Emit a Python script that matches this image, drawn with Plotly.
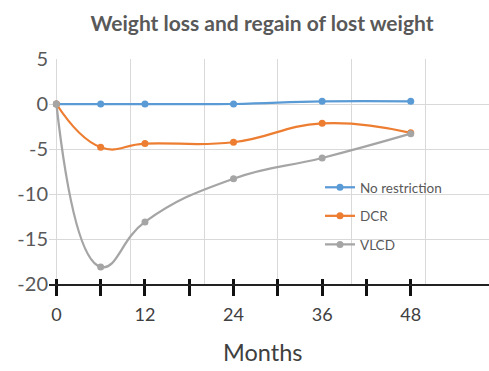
import plotly.graph_objects as go

months = [0, 6, 12, 24, 36, 48]
no_restriction = [0, 0, 0, 0, 0.3, 0.3]
dcr = [0, -4.8, -4.4, -4.25, -2.15, -3.2]
vlcd = [0, -18.1, -13.1, -8.3, -6.0, -3.3]

series = [
    ("No restriction", no_restriction, "#5B9BD5"),
    ("DCR", dcr, "#ED7D31"),
    ("VLCD", vlcd, "#A5A5A5"),
]

grid_ticks = [0, 10, 20, 30, 40, 50]
axis_ticks = [0, 6, 12, 18, 24, 30, 36, 42, 48]
axis_labels = ["0", "", "12", "", "24", "", "36", "", "48"]
y_ticks = [5, 0, -5, -10, -15, -20]
y_labels = ["5", "0", "-5", "-10", "-15", "-20"]

FONT = "Lato"
TXT = "#595959"

fig = go.Figure()
for i, (name, vals, col) in enumerate(series):
    fig.add_trace(go.Scatter(
        x=months, y=vals, name=name, mode="lines+markers",
        line=dict(color=col, width=2.25, shape="spline", smoothing=1.3),
        marker=dict(color=col, size=7),
        legendgroup=f"g{i}",
    ))
# helper traces so the hand-drawn axis layers exist
fig.add_trace(go.Scatter(x=[None], y=[None], xaxis="x2", showlegend=False, hoverinfo="skip"))
fig.add_trace(go.Scatter(x=[None], y=[None], xaxis="x3", showlegend=False, hoverinfo="skip"))

xr = [-1, 58.6]
fig.update_layout(
    width=489, height=371,
    margin=dict(l=49, r=0, t=59, b=87),
    paper_bgcolor="white", plot_bgcolor="white",
    font=dict(family=FONT, color=TXT),
    title=dict(text="<b>Weight loss and regain of lost weight</b>",
               x=262/489, xanchor="center", y=1-24/371, yanchor="middle",
               font=dict(size=21, color=TXT, family=FONT)),
    xaxis=dict(range=xr, tickmode="array", tickvals=grid_ticks, showticklabels=False,
               ticks="", showgrid=True, gridcolor="#D9D9D9", gridwidth=1,
               zeroline=False, showline=False, automargin=False),
    xaxis2=dict(range=xr, overlaying="x", side="bottom", tickmode="array",
                tickvals=axis_ticks, ticktext=axis_labels, ticks="outside",
                ticklen=10, tickwidth=3, tickcolor="#111111",
                showline=True, linecolor="#222222", linewidth=2,
                showgrid=False, zeroline=False, ticklabelstandoff=3, automargin=False,
                tickfont=dict(size=18, color="#404040", family=FONT)),
    xaxis3=dict(range=xr, overlaying="x", side="bottom", tickmode="array",
                tickvals=axis_ticks, showticklabels=False, ticks="inside",
                ticklen=5, tickwidth=3, tickcolor="#111111", automargin=False,
                showline=False, showgrid=False, zeroline=False),
    yaxis=dict(range=[-20, 5], tickmode="array", tickvals=y_ticks, ticktext=y_labels,
               showgrid=True, gridcolor="#D9D9D9", gridwidth=1,
               zeroline=False, showline=False, ticks="", automargin=False,
               ticklabelstandoff=0,
               tickfont=dict(size=20, color=TXT, family=FONT)),
    legend=dict(x=(320-49)/440, y=(284-172)/225, xanchor="left", yanchor="top",
                bgcolor="rgba(0,0,0,0)", traceorder="grouped", tracegroupgap=8,
                font=dict(size=13.5, color=TXT, family=FONT)),
    annotations=[dict(text="Months", xref="paper", yref="paper",
                      x=(262-49)/440, y=-(352-284)/225, xanchor="center", yanchor="middle",
                      showarrow=False, font=dict(size=23.5, color="#404040", family=FONT))],
)

fig.write_html("out.html", config={"displayModeBar": False},
               post_script="document.body.style.margin='0';")
